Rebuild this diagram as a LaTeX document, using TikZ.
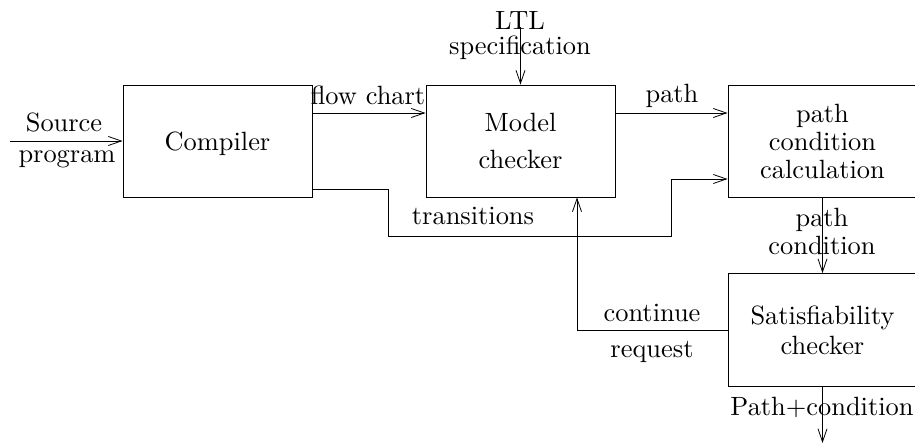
\documentclass[tikz,border=0pt]{standalone}
\usepackage{fontspec}
\setmainfont{lmroman10-regular.otf}[Ligatures=TeX]
\usetikzlibrary{arrows.meta}
\tikzset{
  box/.style={draw, line width=0.9bp, minimum width=189bp, minimum height=112bp, inner sep=0pt, align=center},
  conn/.style={line width=0.9bp},
  arr/.style={conn, -{Straight Barb[length=13bp,width=9bp,line width=0.8bp]}},
  lbl/.style={anchor=base, inner sep=0pt},
}
\begin{document}
\begin{tikzpicture}[x=1bp,y=-1bp,font=\fontsize{26.5}{31}\selectfont]
\useasboundingbox (0,0) rectangle (915,446);
% boxes
\node[box, text depth=0pt] (comp) at (217.5,141) {Compiler};
\node[box] (mc) at (520.5,141) {Model\\[6bp]checker};
\node[box] (pcc) at (822.5,141.5) {path\\[-3bp]condition\\[-3bp]calculation};
\node[box, minimum height=113bp] (sat) at (822.5,330) {Satisfiability\\[-1bp]checker};
% free ends
\coordinate (src) at (10,141);
\coordinate (ltltop) at (520.5,27);
\coordinate (out) at (822.5,443);
\coordinate (fcy) at (0,113);
\coordinate (try) at (0,189);
\coordinate (trx1) at (388,0);
\coordinate (trlow) at (0,236);
\coordinate (trx2) at (671,0);
\coordinate (trin) at (0,179);
\coordinate (crx) at (577,0);
% labels
\node[lbl] (lsrc) at (64,132) {Source};
\node[lbl] (lprog) at (67,163) {program};
\node[lbl] (lltl) at (520,30) {LTL};
\node[lbl] (lspec) at (520,55) {specification};
\node[lbl] (lfc) at (368,105) {flow chart};
\node[lbl] (lpath) at (672,103) {path};
\node[lbl] (ltr) at (473,225) {transitions};
\node[lbl] (lpc1) at (822,227) {path};
\node[lbl] (lpc2) at (822,255) {condition};
\node[lbl] (lcont) at (652,322) {continue};
\node[lbl] (lreq) at (652,358) {request};
\node[lbl] (lout) at (822,415) {Path+condition};
% connectors
\draw[arr] (src) -- (comp.west);
\draw[arr] (ltltop) -- (mc.north);
\draw[arr] (comp.east |- fcy) -- (mc.west |- fcy);
\draw[arr] (mc.east |- fcy) -- (pcc.west |- fcy);
\draw[arr] (comp.east |- try) -- (trx1 |- try) -- (trx1 |- trlow) -- (trx2 |- trlow) -- (trx2 |- trin) -- (pcc.west |- trin);
\draw[arr] (pcc.south) -- (sat.north);
\draw[arr] (sat.west) -- (crx |- sat.west) -- (crx |- mc.south);
\draw[arr] (sat.south) -- (out);
\end{tikzpicture}
\end{document}
